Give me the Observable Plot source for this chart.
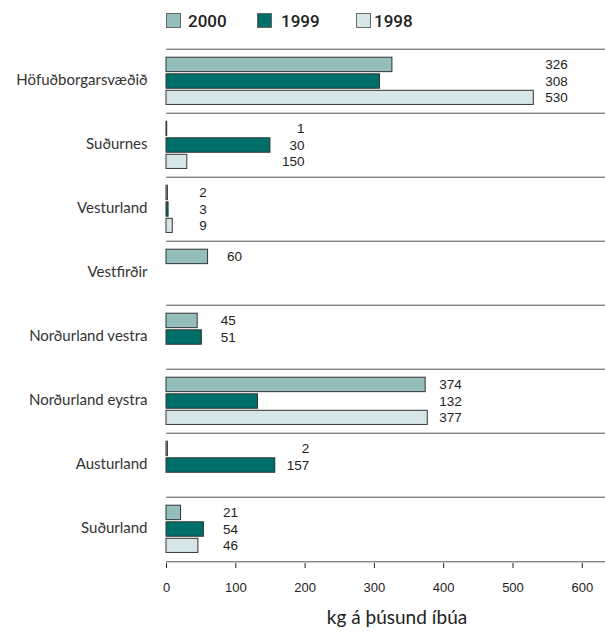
<!DOCTYPE html>
<html><head><meta charset="utf-8">
<script src="https://cdn.jsdelivr.net/npm/d3@7"></script>
<script src="https://cdn.jsdelivr.net/npm/@observablehq/plot@0.6"></script>
<style>
body{margin:0;background:#fff;}
#wrap{position:relative;width:605px;height:633px;overflow:hidden;}
#legend{position:relative;height:36px;font-family:Roboto,sans-serif;font-weight:500;font-size:17px;color:#222;}
.sw{position:absolute;top:13px;width:13px;height:13px;border:1px solid #666;}
.lt{position:absolute;top:11px;line-height:20px;}
svg{display:block;}
</style>
</head><body>
<div id="wrap"><div id="legend"></div><div id="chart"></div></div>
<script>
const regions = ["Höfuðborgarsvæðið","Suðurnes","Vesturland","Vestfirðir","Norðurland vestra","Norðurland eystra","Austurland","Suðurland"];
const years = ["2000","1999","1998"];
const v2000 = [326, 1, 2, 60, 45, 374, 2, 21];
const v1999 = [308, 150, 3, null, 51, 132, 157, 54];
const v1998 = [530, 30, 9, null, null, 377, null, 46];
const lab2000 = ["326","1","2","60","45","374","2","21"];
const lab1999 = ["308","30","3","","51","132","157","54"];
const lab1998 = ["530","150","9","","","377","","46"];
const colors = ["#93bebc","#006e69","#d7e7e7"];
const xTicks = [0,100,200,300,400,500,600];
const axisTitle = "kg á þúsund íbúa";

// legend (HTML, above the SVG)
const legendSw = [166, 257, 356];
const legendTx = [188, 281, 374];
const legend = document.getElementById("legend");
years.forEach((yr,k)=>{
  const s=document.createElement("div"); s.className="sw"; s.style.left=legendSw[k]+"px"; s.style.background=colors[k]; legend.appendChild(s);
  const t=document.createElement("div"); t.className="lt"; t.style.left=legendTx[k]+"px"; t.textContent=yr; legend.appendChild(t);
});

const series = [v2000, v1999, v1998];
const labels = [lab2000, lab1999, lab1998];
const rows = [];
years.forEach((yr,k)=>regions.forEach((r,i)=>{
  if (series[k][i] != null) rows.push({region:r, year:yr, value:series[k][i], label:labels[k][i], max:d3.max(series, s=>s[i])});
}));

const H = 597, mt = 10.5, mb = 70;
const bw = (H - mt - mb) / regions.length;
const slots = [[8.2,23.2],[24.8,39.8],[41.3,56]];

const marks = [];
years.forEach((yr,k)=>{
  const d = rows.filter(r=>r.year===yr);
  marks.push(Plot.barX(d, {x:"value", y:"region", fill:colors[k], stroke:"#333", strokeWidth:1,
    insetTop:slots[k][0], insetBottom:bw-slots[k][1]}));
  marks.push(Plot.text(d, {x:"max", y:"region", text:"label", dx:34, dy:(slots[k][0]+slots[k][1])/2 - bw/2,
    textAnchor:"end", fontSize:13.5, fill:"#222"}));
});
marks.push(Plot.ruleY(regions, {dy:-bw/2, stroke:"#555", strokeWidth:1}));
marks.push(Plot.ruleY([regions[regions.length-1]], {dy:bw/2, stroke:"#555", strokeWidth:1}));
marks.push(Plot.text(regions, {y:d=>d, text:d=>d, frameAnchor:"left", textAnchor:"end", dx:-19, dy:-1.5,
  fontFamily:"Lato", fontSize:15, fill:"#333"}));
marks.push(Plot.text([axisTitle], {frameAnchor:"bottom", dx:11, dy:60, fontFamily:"Lato", fontSize:19, fill:"#222"}));

const chart = Plot.plot({
  width:605, height:H, marginLeft:166, marginRight:0, marginTop:mt, marginBottom:mb,
  x:{domain:[0,633.5], ticks:xTicks, tickSize:5, tickPadding:14, label:null},
  y:{domain:regions, axis:null, paddingInner:0, paddingOuter:0},
  style:{fontFamily:"Liberation Sans", fontSize:"13px", color:"#222", background:"#fff", overflow:"visible"},
  marks
});
document.getElementById("chart").appendChild(chart);
</script>
</body></html>
